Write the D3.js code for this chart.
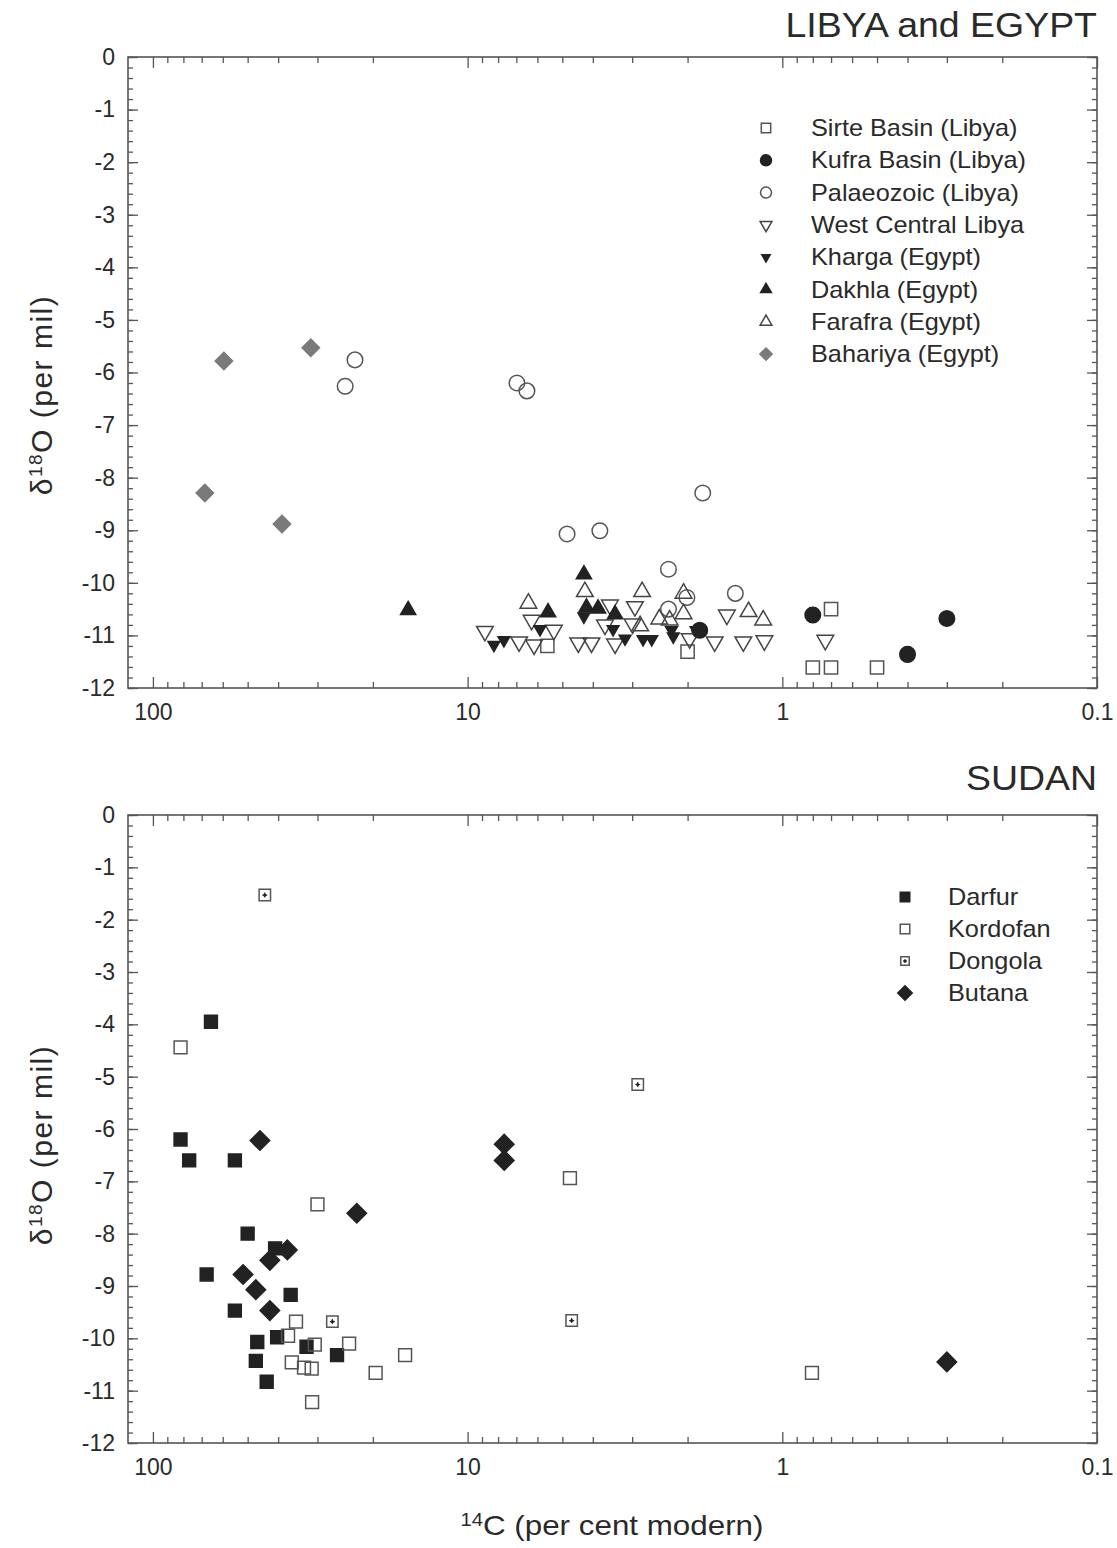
<!DOCTYPE html>
<html>
<head>
<meta charset="utf-8">
<script src="https://cdn.jsdelivr.net/npm/d3@7"></script>
<style>
  body { margin: 0; background: #fff; }
  text { font-family: "Liberation Sans", Arial, sans-serif; fill: #2a2a2a; }
</style>
</head>
<body>
<svg id="chart" width="1117" height="1548"></svg>
<script>
// ---- data: [14C per cent modern, d18O per mil] ----
// Libya and Egypt
const sirte = [[5.58, -11.2], [2.0, -11.31], [0.80, -11.61], [0.70, -11.61], [0.70, -10.5], [0.50, -11.61]];
const kufra = [[1.83, -10.9], [0.80, -10.61], [0.40, -11.36], [0.30, -10.68]];
const palaeozoic = [[24.5, -6.26], [22.8, -5.76], [6.97, -6.2], [6.48, -6.35], [4.83, -9.07], [3.80, -9.01],
  [2.30, -9.74], [2.30, -10.5], [2.01, -10.28], [1.79, -8.29], [1.41, -10.2]];
const westCentral = [[8.81, -10.92], [6.86, -11.12], [6.15, -11.18], [6.26, -10.71], [5.32, -10.9], [4.45, -11.14],
  [4.04, -11.14], [3.53, -10.42], [3.66, -10.8], [3.40, -11.16], [2.94, -10.45], [2.99, -10.78], [1.97, -11.06],
  [1.64, -11.12], [1.50, -10.61], [1.33, -11.12], [1.14, -11.1], [0.73, -11.09]];
const kharga = [[8.25, -11.18], [7.67, -11.09], [5.89, -10.88], [4.27, -10.64], [3.45, -10.88], [3.16, -11.06],
  [2.77, -11.07], [2.60, -11.07], [2.25, -10.9], [2.22, -11.02], [1.88, -10.9]];
const dakhla = [[15.45, -10.52], [4.27, -9.84], [5.55, -10.56], [4.19, -10.47], [3.85, -10.49], [3.40, -10.6]];
const farafra = [[6.41, -10.39], [4.24, -10.17], [2.79, -10.17], [2.06, -10.2], [2.06, -10.59], [2.46, -10.69],
  [2.28, -10.71], [2.83, -10.82], [1.28, -10.55], [1.15, -10.71]];
const bahariya = [[59.5, -5.78], [31.5, -5.53], [68.4, -8.29], [38.9, -8.88]];

// Sudan
const darfur = [[65.4, -3.95], [81.7, -6.2], [76.7, -6.6], [54.9, -6.6], [50.0, -8.0], [40.9, -8.28], [67.5, -8.78],
  [36.5, -9.17], [54.9, -9.47], [40.3, -9.98], [46.6, -10.07], [47.1, -10.43], [43.5, -10.83], [32.5, -10.16], [26.0, -10.32]];
const kordofan = [[81.7, -4.44], [30.0, -7.44], [35.1, -9.68], [37.2, -9.95], [30.6, -10.12], [23.8, -10.1],
  [15.8, -10.32], [36.2, -10.46], [33.1, -10.56], [31.3, -10.58], [19.6, -10.66], [31.2, -11.22], [4.73, -6.94], [0.805, -10.66]];
const dongola = [[44.1, -1.53], [2.88, -5.15], [26.9, -9.68], [4.67, -9.66]];
const butana = [[45.7, -6.22], [22.5, -7.61], [37.4, -8.31], [42.5, -8.51], [51.7, -8.78], [47.1, -9.07],
  [42.5, -9.47], [7.65, -6.29], [7.65, -6.6], [0.30, -10.45]];

// ticks
const xMajor = [100, 10, 1, 0.1];
const xMinor = [90, 80, 70, 60, 50, 40, 30, 20, 9, 8, 7, 6, 5, 4, 3, 2, 0.9, 0.8, 0.7, 0.6, 0.5, 0.4, 0.3, 0.2];
const yMajor = [0, -1, -2, -3, -4, -5, -6, -7, -8, -9, -10, -11, -12];

const svg = d3.select("#chart");
const left = 128, right = 1097;

const x = d3.scaleLog().domain([120, 0.1]).range([left, right]);
const yMinor = d3.range(-12, 0.001, 0.2);

const seriesTop = [
  { name: "Sirte Basin (Libya)", data: sirte, shape: "square", fill: "none", stroke: "#555", size: 175 },
  { name: "Kufra Basin (Libya)", data: kufra, shape: "circle", fill: "#222", stroke: "#222", size: 190 },
  { name: "Palaeozoic (Libya)", data: palaeozoic, shape: "circle", fill: "none", stroke: "#555", size: 190 },
  { name: "West Central Libya", data: westCentral, shape: "triDown", fill: "none", stroke: "#444", size: 120 },
  { name: "Kharga (Egypt)", data: kharga, shape: "triDown", fill: "#222", stroke: "#222", size: 60 },
  { name: "Dakhla (Egypt)", data: dakhla, shape: "triUp", fill: "#222", stroke: "#222", size: 100 },
  { name: "Farafra (Egypt)", data: farafra, shape: "triUp", fill: "none", stroke: "#444", size: 120 },
  { name: "Bahariya (Egypt)", data: bahariya, shape: "diamond", fill: "#7a7a7a", stroke: "#7a7a7a", size: 150 }
];

const seriesBottom = [
  { name: "Darfur", data: darfur, shape: "square", fill: "#222", stroke: "#222", size: 165 },
  { name: "Kordofan", data: kordofan, shape: "square", fill: "none", stroke: "#555", size: 165 },
  { name: "Dongola", data: dongola, shape: "plusSquare", fill: "none", stroke: "#555", size: 130 },
  { name: "Butana", data: butana, shape: "diamond", fill: "#222", stroke: "#222", size: 190 }
];

function addSymbol(g, s, cx, cy, k) {
  const size = s.size * k;
  let type = d3.symbolSquare, rot = 0;
  if (s.shape === "circle") type = d3.symbolCircle;
  if (s.shape === "triUp") type = d3.symbolTriangle;
  if (s.shape === "triDown") { type = d3.symbolTriangle; rot = 180; }
  if (s.shape === "diamond") rot = 45;
  g.append("path")
    .attr("d", d3.symbol().type(type).size(size)())
    .attr("transform", `translate(${cx},${cy}) rotate(${rot})`)
    .attr("fill", s.fill)
    .attr("stroke", s.stroke)
    .attr("stroke-width", 1.5);
  if (s.shape === "plusSquare") {
    const h = Math.sqrt(size) * 0.22;
    g.append("path")
      .attr("d", `M${cx - h},${cy}H${cx + h}M${cx},${cy - h}V${cy + h}`)
      .attr("stroke", "#333").attr("stroke-width", 1.2);
    g.append("circle").attr("cx", cx).attr("cy", cy).attr("r", 1.6).attr("fill", "#222");
  }
}

function wideText(g, str, tx, ty, size, anchor, k) {
  return g.append("text")
    .attr("transform", `translate(${tx},${ty}) scale(${k},1)`)
    .attr("text-anchor", anchor)
    .style("font-size", size + "px")
    .text(str);
}

function panel(opts) {
  const y = d3.scaleLinear().domain([-12, 0]).range([opts.bottom, opts.top]);
  const g = svg.append("g");

  // ticks (inward on all four sides)
  const tickStyle = sel => {
    sel.select(".domain").remove();
    sel.selectAll("line").attr("stroke", "#555").attr("stroke-width", 1.3);
  };
  const labelStyle = a => a.selectAll("text").style("font-size", "23px").style("font-family", null).attr("fill", "#2a2a2a");

  g.append("g").attr("transform", `translate(0,${opts.bottom})`)
    .call(d3.axisBottom(x).tickValues(xMajor).tickSize(-11).tickPadding(16).tickFormat(d => String(d)))
    .call(tickStyle)
    .call(labelStyle);
  g.append("g").attr("transform", `translate(0,${opts.bottom})`)
    .call(d3.axisBottom(x).tickValues(xMinor).tickSize(-6).tickFormat(""))
    .call(tickStyle);
  g.append("g").attr("transform", `translate(0,${opts.top})`)
    .call(d3.axisTop(x).tickValues(xMajor).tickSize(-11).tickFormat(""))
    .call(tickStyle);
  g.append("g").attr("transform", `translate(0,${opts.top})`)
    .call(d3.axisTop(x).tickValues(xMinor).tickSize(-6).tickFormat(""))
    .call(tickStyle);

  g.append("g").attr("transform", `translate(${left},0)`)
    .call(d3.axisLeft(y).tickValues(yMajor).tickSize(-10).tickPadding(13).tickFormat(d => String(d)))
    .call(tickStyle)
    .call(labelStyle);
  g.append("g").attr("transform", `translate(${left},0)`)
    .call(d3.axisLeft(y).tickValues(yMinor).tickSize(-5).tickFormat(""))
    .call(tickStyle);
  g.append("g").attr("transform", `translate(${right},0)`)
    .call(d3.axisRight(y).tickValues(yMajor).tickSize(-10).tickFormat(""))
    .call(tickStyle);
  g.append("g").attr("transform", `translate(${right},0)`)
    .call(d3.axisRight(y).tickValues(yMinor).tickSize(-5).tickFormat(""))
    .call(tickStyle);

  // frame
  g.append("rect")
    .attr("x", left).attr("y", opts.top)
    .attr("width", right - left).attr("height", opts.bottom - opts.top)
    .attr("fill", "none").attr("stroke", "#555").attr("stroke-width", 1.6);

  // points
  const pts = g.append("g");
  opts.series.forEach(s => {
    s.data.forEach(d => addSymbol(pts, s, x(d[0]), y(d[1]), 1));
  });

  // legend
  const lg = g.append("g");
  opts.series.forEach((s, i) => {
    const cy = opts.legendY + i * opts.legendStep;
    addSymbol(lg, s, opts.legendX, cy, opts.legendK);
    wideText(lg, s.name, opts.legendX + opts.legendGap, cy + 8, 23, "start", 1.1);
  });

  // title
  wideText(g, opts.title, right, opts.titleY, 35, "end", 1.07);

  // y axis title
  const yl = g.append("text")
    .attr("transform", `translate(52,${opts.labelY}) rotate(-90)`)
    .attr("text-anchor", "middle")
    .style("font-size", "30px")
    .style("letter-spacing", "1.5px");
  yl.append("tspan").text("δ");
  yl.append("tspan").attr("baseline-shift", "super").style("font-size", "19px").text("18");
  yl.append("tspan").text("O (per mil)");
}

panel({
  top: 57, bottom: 688, series: seriesTop, title: "LIBYA and EGYPT", titleY: 37, labelY: 395,
  legendX: 766, legendY: 128, legendStep: 32.3, legendGap: 45, legendK: 0.5
});

panel({
  top: 815, bottom: 1443, series: seriesBottom, title: "SUDAN", titleY: 790, labelY: 1145,
  legendX: 905, legendY: 897, legendStep: 32, legendGap: 43, legendK: 0.55
});

// x axis title
const xl = svg.append("text")
  .attr("transform", `translate(612,1535) scale(1.12,1)`)
  .attr("text-anchor", "middle")
  .style("font-size", "28px");
xl.append("tspan").attr("baseline-shift", "super").style("font-size", "18px").text("14");
xl.append("tspan").text("C (per cent modern)");
</script>
</body>
</html>
